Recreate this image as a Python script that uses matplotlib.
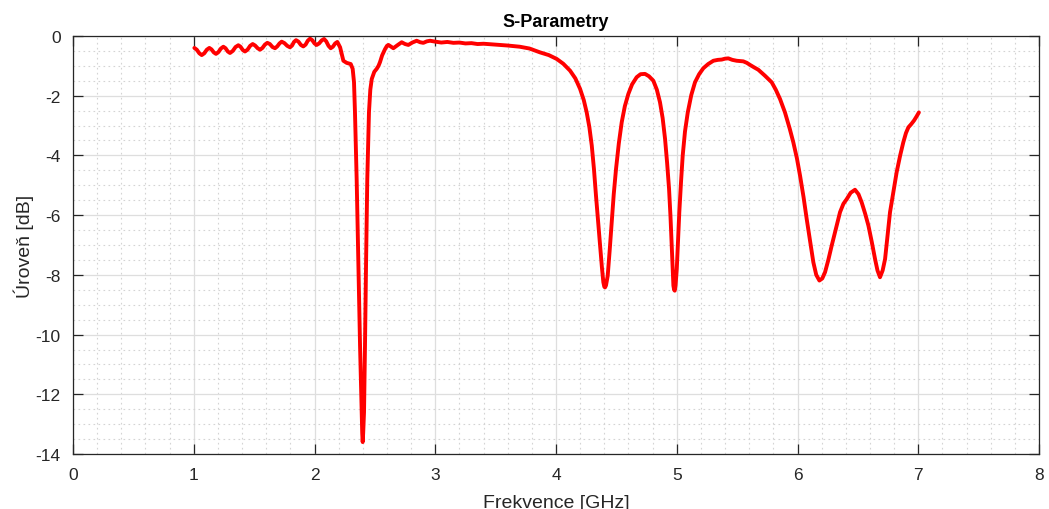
import numpy as np
import matplotlib.pyplot as plt
from matplotlib.ticker import MultipleLocator

plt.rcParams['font.family'] = ['Liberation Sans', 'DejaVu Sans']
plt.rcParams['axes.unicode_minus'] = False

# frekvence [GHz]
freq = [1.005, 1.025, 1.046, 1.066, 1.087, 1.108, 1.129, 1.147, 1.166, 1.184,
        1.204, 1.225, 1.245, 1.263, 1.282, 1.300, 1.323, 1.346, 1.369, 1.387,
        1.406, 1.424, 1.445, 1.467, 1.488, 1.508, 1.529, 1.549, 1.569, 1.589,
        1.609, 1.630, 1.652, 1.673, 1.691, 1.710, 1.728, 1.751, 1.774, 1.797,
        1.814, 1.830, 1.847, 1.867, 1.887, 1.907, 1.926, 1.944, 1.963, 1.981,
        2.000, 2.018, 2.038, 2.059, 2.079, 2.097, 2.116, 2.134, 2.152, 2.171,
        2.189, 2.212, 2.239, 2.266, 2.300, 2.316, 2.327, 2.335, 2.349, 2.363,
        2.377, 2.391, 2.395, 2.399, 2.403, 2.410, 2.418, 2.427, 2.437, 2.451,
        2.462, 2.474, 2.495, 2.515, 2.530, 2.542, 2.560, 2.584, 2.600, 2.612,
        2.630, 2.653, 2.690, 2.722, 2.750, 2.777, 2.810, 2.846, 2.875, 2.901,
        2.930, 2.957, 3.000, 3.050, 3.100, 3.150, 3.200, 3.250, 3.300, 3.350,
        3.400, 3.500, 3.600, 3.700, 3.780, 3.868, 3.940, 4.006, 4.060, 4.116,
        4.160, 4.199, 4.230, 4.254, 4.276, 4.296, 4.314, 4.331, 4.348, 4.365,
        4.380, 4.392, 4.400, 4.406, 4.414, 4.428, 4.444, 4.461, 4.478, 4.497,
        4.520, 4.544, 4.570, 4.599, 4.630, 4.668, 4.700, 4.737, 4.770, 4.806,
        4.835, 4.861, 4.883, 4.903, 4.920, 4.936, 4.948, 4.958, 4.966, 4.972,
        4.978, 4.983, 4.990, 5.000, 5.010, 5.021, 5.035, 5.049, 5.068, 5.091,
        5.120, 5.151, 5.185, 5.220, 5.260, 5.303, 5.340, 5.372, 5.400, 5.427,
        5.460, 5.496, 5.525, 5.551, 5.580, 5.607, 5.640, 5.675, 5.700, 5.730,
        5.760, 5.786, 5.820, 5.855, 5.896, 5.935, 5.965, 5.995, 6.021, 6.050,
        6.076, 6.105, 6.131, 6.155, 6.181, 6.205, 6.228, 6.255, 6.283, 6.318,
        6.352, 6.380, 6.408, 6.440, 6.476, 6.505, 6.531, 6.560, 6.587, 6.615,
        6.642, 6.662, 6.683, 6.705, 6.725, 6.745, 6.766, 6.795, 6.821, 6.850,
        6.876, 6.898, 6.918, 6.942, 6.965, 6.985, 7.005]

# uroven S11 [dB]
s11 = [-0.40, -0.46, -0.58, -0.64, -0.58, -0.46, -0.40, -0.45, -0.55, -0.60,
       -0.54, -0.42, -0.36, -0.41, -0.52, -0.57, -0.50, -0.37, -0.31, -0.36,
       -0.47, -0.52, -0.46, -0.33, -0.27, -0.32, -0.41, -0.46, -0.40, -0.29,
       -0.23, -0.27, -0.37, -0.41, -0.35, -0.25, -0.19, -0.24, -0.33, -0.38,
       -0.32, -0.20, -0.14, -0.19, -0.30, -0.35, -0.29, -0.16, -0.09, -0.14,
       -0.25, -0.30, -0.25, -0.15, -0.10, -0.18, -0.33, -0.41, -0.36, -0.25,
       -0.20, -0.38, -0.83, -0.90, -0.94, -1.10, -1.55, -2.55, -4.79, -7.57,
       -10.37, -12.60, -13.30, -13.60, -13.30, -12.60, -10.37, -7.57, -4.79, -2.55,
       -1.80, -1.44, -1.20, -1.10, -1.00, -0.88, -0.65, -0.44, -0.33, -0.30,
       -0.35, -0.41, -0.30, -0.21, -0.27, -0.30, -0.22, -0.16, -0.21, -0.23,
       -0.18, -0.16, -0.19, -0.22, -0.20, -0.23, -0.22, -0.25, -0.24, -0.27,
       -0.26, -0.29, -0.32, -0.36, -0.42, -0.55, -0.64, -0.77, -0.93, -1.16,
       -1.42, -1.77, -2.15, -2.56, -3.05, -3.67, -4.45, -5.35, -6.20, -7.02,
       -7.75, -8.25, -8.40, -8.42, -8.35, -8.03, -7.20, -6.24, -5.30, -4.45,
       -3.60, -2.89, -2.35, -1.94, -1.62, -1.38, -1.28, -1.27, -1.35, -1.50,
       -1.80, -2.22, -2.75, -3.45, -4.25, -5.12, -6.05, -7.02, -7.80, -8.36,
       -8.50, -8.53, -8.35, -7.80, -6.90, -5.90, -4.90, -4.01, -3.20, -2.56,
       -1.98, -1.55, -1.28, -1.08, -0.94, -0.83, -0.80, -0.79, -0.76, -0.75,
       -0.80, -0.83, -0.84, -0.85, -0.90, -0.97, -1.05, -1.13, -1.22, -1.33,
       -1.45, -1.55, -1.80, -2.11, -2.56, -3.10, -3.56, -4.10, -4.68, -5.40,
       -6.13, -6.90, -7.58, -8.00, -8.19, -8.12, -7.91, -7.50, -7.02, -6.45,
       -5.90, -5.62, -5.46, -5.25, -5.15, -5.30, -5.57, -5.95, -6.35, -6.90,
       -7.47, -7.85, -8.08, -7.85, -7.47, -6.70, -5.90, -5.20, -4.56, -4.00,
       -3.56, -3.25, -3.06, -2.95, -2.83, -2.70, -2.56]

fig = plt.figure(figsize=(10.49, 5.10), dpi=100)
ax = fig.add_axes([0.0696, 0.1078, 0.9209, 0.8197])

ax.plot(freq, s11, color='#ff0000', linewidth=2.8,
        solid_joinstyle='round', solid_capstyle='round')

ax.set_xlim(0, 8)
ax.set_ylim(-14, 0)
ax.xaxis.set_major_locator(MultipleLocator(1))
ax.xaxis.set_minor_locator(MultipleLocator(0.2))
ax.yaxis.set_major_locator(MultipleLocator(2))
ax.yaxis.set_minor_locator(MultipleLocator(0.5))

ax.grid(True, which='major', color='#dedede', linewidth=0.9)
ax.grid(True, which='minor', color='#d4d4d4', linestyle=(0, (1.5, 3)), linewidth=0.8)
ax.set_axisbelow(True)

ax.tick_params(which='major', direction='in', length=7.2, width=0.9,
               top=True, right=True, labelsize=12.5, colors='#262626', pad=9)
ax.tick_params(which='minor', length=0)
for s in ax.spines.values():
    s.set_color('#262626')
    s.set_linewidth(0.9)

ax.set_title('S-Parametry', fontsize=13, fontweight='bold', pad=7)
ax.set_xlabel('Frekvence [GHz]', fontsize=14, color='#262626', labelpad=9)
ax.set_ylabel('Úroveň [dB]', fontsize=14, color='#262626', labelpad=1)

fig.savefig('out.png', dpi=100)
